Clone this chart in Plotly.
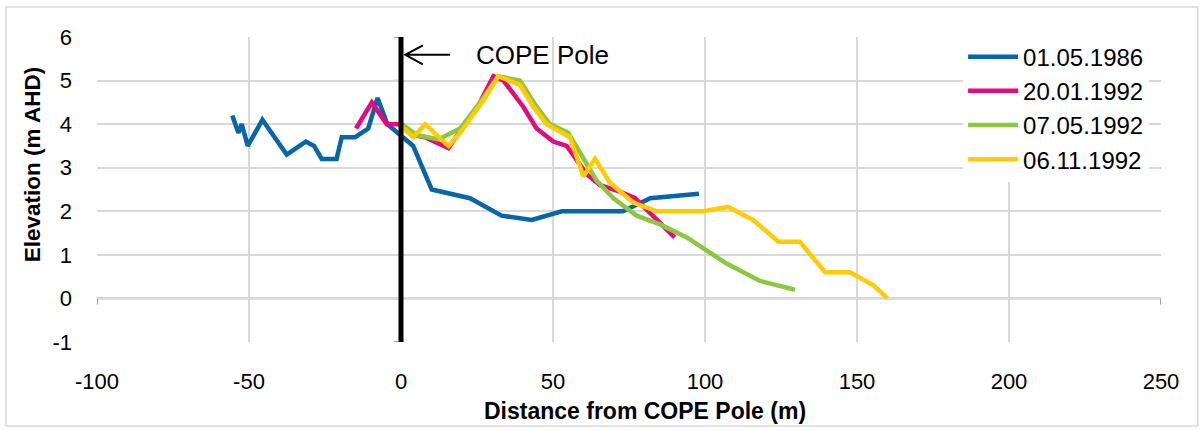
import plotly.graph_objects as go

# ---- data ----
x_1986 = [-55.5, -53.5, -52.4, -50.4, -45.6, -37.6, -31.3, -28.6, -26.1, -21.2, -19.5, -15.1,
          -10.8, -7.7, -4.5, 4.0, 10.1, 22.7, 33.1, 43.0, 52.9, 73.0, 82.0, 98.0]
y_1986 = [4.2, 3.8, 4.0, 3.5, 4.1, 3.3, 3.6, 3.5, 3.2, 3.2, 3.7, 3.7,
          3.9, 4.6, 4.0, 3.5, 2.5, 2.3, 1.9, 1.8, 2.0, 2.0, 2.3, 2.4]

x_jan92 = [-14.8, -9.6, -4.7, 0.0, 4.6, 7.9, 15.6, 20.0, 24.9, 30.4, 33.7, 40.2, 44.6,
           50.1, 54.5, 61.1, 65.5, 72.0, 77.0, 90.0]
y_jan92 = [3.9, 4.5, 4.0, 4.0, 3.75, 3.7, 3.45, 3.9, 4.35, 5.1, 5.0, 4.4, 3.9,
           3.6, 3.5, 2.85, 2.6, 2.45, 2.3, 1.4]

x_may92 = [0.2, 5.2, 12.3, 19.4, 26.0, 32.0, 39.1, 44.6, 49.0, 55.0, 64.4, 69.9, 77.5,
           85.2, 94.0, 107.1, 118.1, 129.6]
y_may92 = [4.0, 3.75, 3.65, 3.9, 4.5, 5.1, 5.0, 4.4, 4.0, 3.8, 2.7, 2.3, 1.9,
           1.7, 1.4, 0.8, 0.4, 0.2]

x_nov92 = [0.2, 4.1, 7.9, 15.6, 20.0, 24.9, 27.6, 32.0, 39.1, 43.5, 47.9, 55.6, 60.0,
           63.8, 68.8, 76.4, 84.1, 99.4, 107.6, 115.9, 124.1, 131.2, 139.5, 147.7, 155.4, 160.0]
y_nov92 = [3.95, 3.7, 4.0, 3.5, 3.85, 4.35, 4.6, 5.1, 4.9, 4.4, 4.0, 3.7, 2.8,
           3.2, 2.65, 2.2, 2.0, 2.0, 2.1, 1.8, 1.3, 1.3, 0.6, 0.6, 0.3, 0.0]

series_names = ["01.05.1986", "20.01.1992", "07.05.1992", "06.11.1992"]
series_colors = ["#0765A8", "#E5097F", "#8DC63F", "#FFCC00"]

x_ticks = [-100, -50, 0, 50, 100, 150, 200, 250]
y_ticks = [-1, 0, 1, 2, 3, 4, 5, 6]
x_ticktext = [str(v) for v in x_ticks]
y_ticktext = [str(v) for v in y_ticks]
pole_x = 0
label_text = "COPE Pole"

FONT = "Liberation Sans, Arial, sans-serif"

fig = go.Figure()
for xs, ys, name, col in zip([x_1986, x_jan92, x_may92, x_nov92],
                             [y_1986, y_jan92, y_may92, y_nov92],
                             series_names, series_colors):
    fig.add_trace(go.Scatter(x=xs, y=ys, mode="lines", name=name,
                             line=dict(color=col, width=4.5)))

shapes = []
# outer chart border
shapes.append(dict(type="rect", xref="paper", yref="paper",
                   x0=-0.0855, x1=1.0345, y0=-0.275, y1=1.098,
                   line=dict(color="#D9D9D9", width=1.5), layer="below"))
# x axis line crossing at y = 0
shapes.append(dict(type="line", xref="x", yref="y", x0=x_ticks[0], x1=x_ticks[-1], y0=0, y1=0,
                   line=dict(color="#868686", width=1.5), layer="below"))
for t in x_ticks:
    shapes.append(dict(type="line", xref="x", yref="y", x0=t, x1=t,
                       ysizemode="pixel", yanchor=0, y0=0, y1=-6,
                       line=dict(color="#868686", width=1.5), layer="below"))
# y axis ticks at x = 0
for t in y_ticks:
    shapes.append(dict(type="line", xref="x", yref="y", y0=t, y1=t,
                       xsizemode="pixel", xanchor=pole_x, x0=-7, x1=0,
                       line=dict(color="#868686", width=1.5), layer="below"))
# COPE pole line
shapes.append(dict(type="line", xref="x", yref="y", x0=pole_x, x1=pole_x,
                   y0=y_ticks[0], y1=y_ticks[-1],
                   line=dict(color="black", width=5), layer="above"))
# arrow pointing to the pole
shapes.append(dict(type="path", xref="x", yref="y",
                   path="M 7.2,5.81 L 1.4,5.59 L 7.2,5.37 M 1.4,5.59 L 16.1,5.59",
                   line=dict(color="black", width=2), layer="above"))

annotations = [
    dict(x=24, y=5.59, xref="x", yref="y", text=label_text, showarrow=False,
         xanchor="left", yanchor="middle", font=dict(family=FONT, size=26, color="black")),
    dict(x=0.515, y=-0.226, xref="paper", yref="paper", text="<b>Distance from COPE Pole (m)</b>",
         showarrow=False, xanchor="center", yanchor="middle",
         font=dict(family=FONT, size=23, color="black")),
    dict(x=-0.061, y=0.58, xref="paper", yref="paper", text="<b>Elevation (m AHD)</b>",
         showarrow=False, textangle=-90, xanchor="center", yanchor="middle",
         font=dict(family=FONT, size=22.5, color="black")),
]

fig.update_layout(
    width=1204, height=430,
    margin=dict(l=97, r=43, t=37, b=88),
    paper_bgcolor="white", plot_bgcolor="white",
    shapes=shapes, annotations=annotations,
    showlegend=True,
    legend=dict(x=0.814, y=1.008, xanchor="left", yanchor="top",
                bgcolor="white", borderwidth=0,
                font=dict(family=FONT, size=24, color="black"),
                itemwidth=50, tracegroupgap=0),
    xaxis=dict(range=[x_ticks[0], x_ticks[-1]], tickvals=x_ticks, ticktext=x_ticktext,
               showgrid=True, gridcolor="#D9D9D9", gridwidth=1.5, zeroline=False,
               showline=False, ticks="", ticklabelstandoff=24,
               tickfont=dict(family=FONT, size=22, color="black")),
    yaxis=dict(range=[y_ticks[0], y_ticks[-1]], tickvals=y_ticks, ticktext=y_ticktext,
               showgrid=True, gridcolor="#D9D9D9", gridwidth=1.5, zeroline=False,
               showline=False, ticks="", ticklabelstandoff=24,
               tickfont=dict(family=FONT, size=22, color="black")),
)

fig.write_html("out.html")
